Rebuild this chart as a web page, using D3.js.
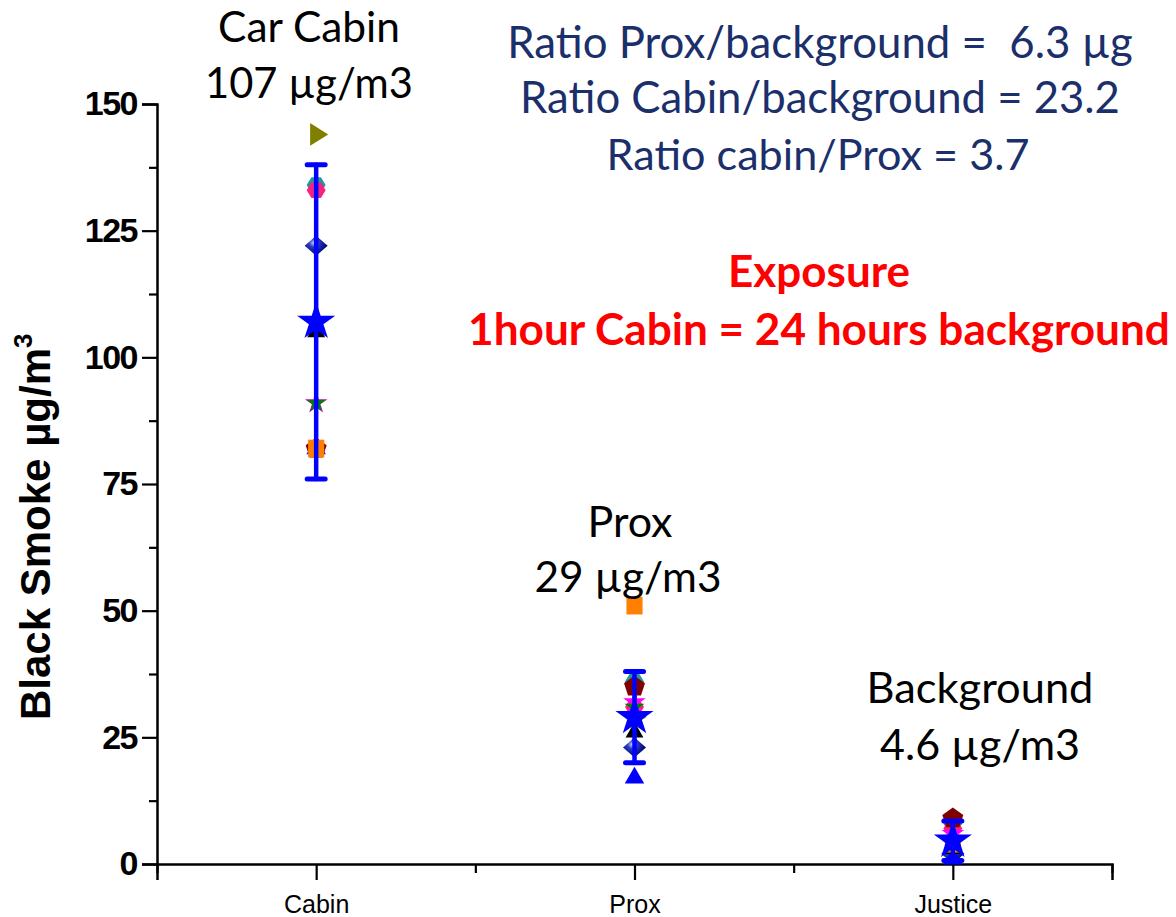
<!DOCTYPE html>
<html>
<head>
<meta charset="utf-8">
<script src="https://cdn.jsdelivr.net/npm/d3@7"></script>
<style>
  html, body { margin: 0; padding: 0; background: #fff; }
  svg { display: block; }
  text { white-space: pre; }
</style>
</head>
<body>
<svg id="chart" width="1176" height="917"></svg>
<script>
// ---- data ----
const sites = ["Cabin", "Prox", "Justice"];
const sitePos = [1, 2, 3];
const yTicks = [0, 25, 50, 75, 100, 125, 150];
const yMinorTicks = [12.5, 37.5, 62.5, 87.5, 112.5, 137.5];
const xMinorTicks = [0.5, 1.5, 2.5, 3.5];

// individual runs, one value per site (Cabin, Prox, Justice)
const runOlive   = [144, 29, 5];
const runTeal    = [134, 36, 8];
const runPink    = [133, 31, 7];
const runNavy    = [122, 23, 2];
const runMagenta = [91, 32, 6];
const runGreen   = [91, 31, 5];
const runBlue    = [82, 17, 1];
const runBlack   = [105, 26, 3];
const runDarkRed = [82, 35, 9];
const runOrange  = [82, 51, 4];

// site means and standard deviations
const meanValues = [107, 29, 4.6];
const sdValues   = [31, 9, 3.9];

// ---- symbol shapes ----
function polygonType(n, rotation, sx = 1, sy = 1) {
  return {
    draw(ctx, size) {
      const r = Math.sqrt(size);
      for (let i = 0; i < n; i++) {
        const a = rotation + i * 2 * Math.PI / n;
        const px = sx * r * Math.cos(a), py = sy * r * Math.sin(a);
        if (i === 0) ctx.moveTo(px, py); else ctx.lineTo(px, py);
      }
      ctx.closePath();
    }
  };
}
const triRight = polygonType(3, 0, 1.15, 1.25);
const triUp = polygonType(3, -Math.PI / 2, 1.15, 1.15);
const hexagon = polygonType(6, 0, 1, 0.95);
const pentagon = polygonType(5, -Math.PI / 2, 1.05, 1.05);
const square = polygonType(4, Math.PI / 4, 1.0, 1.1);
const diamond = polygonType(4, 0, 1.15, 1.0);

const runs = [
  { values: runOlive,   type: triRight, size: 110, fill: "#808000" },
  { values: runTeal,    type: hexagon,  size: 90, fill: "#1f9a9a" },
  { values: runPink,    type: hexagon,  size: 90, fill: "#f5237f" },
  { values: runNavy,    type: diamond,  size: 100, fill: "url(#sphere)" },
  { values: runMagenta, type: d3.symbolStar, size: 160, fill: "#ff00ff" },
  { values: runGreen,   type: d3.symbolStar, size: 125, fill: "#008000" },
  { values: runBlue,    type: triUp,    size: 95, fill: "#0000ff" },
  { values: runBlack,   type: triUp,    size: 80, fill: "#000000" },
  { values: runDarkRed, type: pentagon, size: 110, fill: "#800000" },
  { values: runOrange,  type: square,   size: 130, fill: "#ff8000" }
];

// ---- layout ----
const svg = d3.select("#chart");
const x = d3.scaleLinear().domain([0.5, 3.5]).range([157, 1112]);
const y = d3.scaleLinear().domain([0, 150]).range([864, 104]);

const defs = svg.append("defs");
const grad = defs.append("radialGradient").attr("id", "sphere")
  .attr("cx", "40%").attr("cy", "35%").attr("r", "60%");
grad.append("stop").attr("offset", "0%").attr("stop-color", "#c8d8ff");
grad.append("stop").attr("offset", "35%").attr("stop-color", "#2a3cc0");
grad.append("stop").attr("offset", "100%").attr("stop-color", "#000070");

// ---- axes ----
const axisFont = "'Liberation Sans', Arial, sans-serif";

const yAxis = svg.append("g").attr("transform", `translate(${x(0.5)},0)`)
  .call(d3.axisLeft(y).tickValues(yTicks).tickSize(15).tickPadding(5).tickFormat(d3.format("d")));
const yMinor = svg.append("g").attr("transform", `translate(${x(0.5)},0)`)
  .call(d3.axisLeft(y).tickValues(yMinorTicks).tickSize(8).tickFormat(""));
yMinor.select(".domain").remove();

const xAxis = svg.append("g").attr("transform", `translate(0,${y(0)})`)
  .call(d3.axisBottom(x).tickValues(sitePos).tickSize(16).tickPadding(10)
    .tickFormat((d, i) => sites[i]));
const xMinor = svg.append("g").attr("transform", `translate(0,${y(0)})`)
  .call(d3.axisBottom(x).tickValues(xMinorTicks).tickSize(9).tickFormat(""));
xMinor.select(".domain").remove();

svg.selectAll(".domain").attr("stroke", "#000").attr("stroke-width", 2.5);
svg.selectAll(".tick line").attr("stroke", "#000").attr("stroke-width", 2.2);

yAxis.selectAll(".tick text")
  .attr("font-family", axisFont).attr("font-weight", "bold")
  .attr("font-size", 34).attr("letter-spacing", -1.5).attr("fill", "#000");
xAxis.selectAll(".tick text")
  .attr("font-family", "'Liberation Sans Narrow', 'Arial Narrow', 'Liberation Sans', Arial, sans-serif")
  .attr("font-size", 25).attr("fill", "#000").attr("dy", "0.9em");

// y-axis title
const yTitle = svg.append("text")
  .attr("transform", "translate(50,720) rotate(-90)")
  .attr("font-family", axisFont).attr("font-weight", "bold")
  .attr("font-size", 42).attr("fill", "#000")
  .text("Black Smoke µg/m");
yTitle.append("tspan").attr("font-size", 26).attr("dy", -18).text("3");

// ---- individual runs ----
const sym = d3.symbol();
const marks = svg.append("g");
runs.forEach(run => {
  marks.selectAll(null).data(run.values).join("path")
    .attr("transform", (d, i) => `translate(${x(sitePos[i])},${y(d)})`)
    .attr("d", sym.type(run.type).size(run.size)())
    .attr("fill", run.fill);
});

// ---- means with error bars ----
const meanG = svg.append("g");
const capW = 9;
meanValues.forEach((m, i) => {
  const cx = x(sitePos[i]);
  const top = y(m + sdValues[i]), bot = y(Math.max(0, m - sdValues[i]));
  meanG.append("line").attr("x1", cx).attr("x2", cx).attr("y1", top).attr("y2", bot)
    .attr("stroke", "#0000ff").attr("stroke-width", 4.5).attr("stroke-linecap", "round");
  [top, bot].forEach(yy => meanG.append("line")
    .attr("x1", cx - capW).attr("x2", cx + capW).attr("y1", yy).attr("y2", yy)
    .attr("stroke", "#0000ff").attr("stroke-width", 5).attr("stroke-linecap", "round"));
  meanG.append("path")
    .attr("transform", `translate(${cx},${y(m)})`)
    .attr("d", d3.symbol().type(d3.symbolStar).size(450)())
    .attr("fill", "#0000ff");
});

// ---- annotations ----
const noteFont = "Lato, 'Open Sans', sans-serif";
function note(txt, cx, baseline, width, color, bold) {
  const t = svg.append("text")
    .attr("x", cx).attr("y", baseline).attr("text-anchor", "middle")
    .attr("font-family", noteFont).attr("font-weight", bold ? "bold" : "normal")
    .attr("font-size", 40).attr("fill", color).text(txt);
  const w = t.node().getComputedTextLength();
  t.attr("font-size", 40 * width / w);
  return t;
}
const navy = "#1b2f6b";
note("Car Cabin", 309, 42, 182, "#000", false);
note("107 µg/m3", 309, 98, 208, "#000", false);
note("Prox", 630, 537, 85, "#000", false);
note("29 µg/m3", 628, 592, 187, "#000", false);
note("Background", 980, 703, 227, "#000", false);
note("4.6 µg/m3", 980, 760, 200, "#000", false);
note("Ratio Prox/background =  6.3 µg", 820, 58, 626, navy, false);
note("Ratio Cabin/background = 23.2", 820, 113, 600, navy, false);
note("Ratio cabin/Prox = 3.7", 818, 170, 423, navy, false);
note("Exposure", 819, 287, 182, "#ff0000", true);
note("1hour Cabin = 24 hours background", 819, 345, 702, "#ff0000", true);
</script>
</body>
</html>
